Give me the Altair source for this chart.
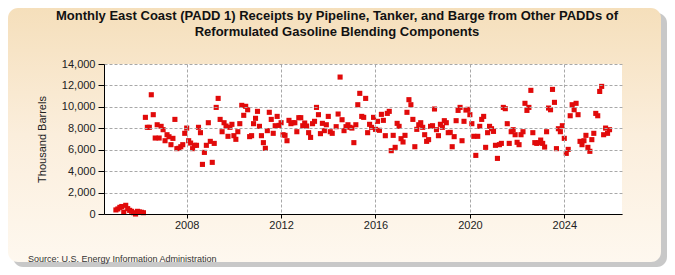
import altair as alt
import pandas as pd

title_line1 = "Monthly East Coast (PADD 1) Receipts by Pipeline, Tanker, and Barge from Other PADDs of"
title_line2 = "Reformulated Gasoline Blending Components"
y_title = "Thousand Barrels"
source_text = "Source: U.S. Energy Information Administration"

x_tick_years = [2008, 2012, 2016, 2020, 2024]
y_ticks = [0, 2000, 4000, 6000, 8000, 10000, 12000, 14000]

# monthly values (Jan..Dec), thousand barrels
v2005 = [380, 470, 620, 700, 180, 810, 500, 340, 250, 120, 0, 250]
v2006 = [190, 160, 120, 9020, 8090, 8090, 11130, 9270, 7090, 8330, 7090, 8180]
v2007 = [7870, 6840, 7400, 7210, 6470, 7060, 8830, 6100, 6130, 6280, 6470, 7530]
v2008 = [8020, 6840, 6620, 6100, 6410, 6410, 8090, 7590, 4630, 5750, 6410, 8520]
v2009 = [6780, 4820, 6590, 9950, 10790, 8830, 7680, 8520, 8210, 7250, 8090, 8370]
v2010 = [7310, 6970, 7680, 8430, 10140, 9210, 10050, 9730, 7220, 7310, 8430, 8930]
v2011 = [9580, 8180, 7310, 6660, 6130, 7780, 9490, 8830, 7530, 8240, 9110, 8270]
v2012 = [8520, 7400, 7340, 6840, 8740, 8430, 8520, 8520, 7680, 8990, 8990, 8240]
v2013 = [8490, 8210, 7590, 7150, 8430, 8650, 9950, 9270, 7500, 8460, 7780, 8330]
v2014 = [9110, 7680, 7530, None, 8150, 9330, 12780, 8800, 7780, 8150, 8330, 8090]
v2015 = [8020, 6660, 8330, 10200, 11260, 9110, 9020, 10790, 7590, 8370, 8090, 9020]
v2016 = [7900, 8650, 7810, 9300, 8740, 7310, 9390, 9580, 5910, 7340, 6220, 8460]
v2017 = [8180, 7030, 6720, 7340, 9490, 10670, 10200, 8830, 6280, 7900, 8330, 8520]
v2018 = [8090, 7400, 6780, 6940, 8180, 8240, 9800, 7870, 7310, 8370, 8090, 8710]
v2019 = [8520, 7590, 7620, 6280, 7220, 8710, 9670, 9950, 6840, 8650, 9700, 9770]
v2020 = [9270, 8430, 7250, 5470, 7250, 8180, 8830, 9110, 6220, 7590, 8180, 7960]
v2021 = [7710, 6410, 5190, 6470, 6590, 9950, 9830, 8430, 6590, 7680, 7870, 7400]
v2022 = [6690, 6470, 7400, 7680, 10330, 9670, 9950, 11540, 7590, 6660, 6590, 6660]
v2023 = [6900, 6590, 6250, 7680, 9890, 9730, 11630, 10420, 6100, 7960, 7680, 8240]
v2024 = [7060, 5660, 6030, 9170, 10200, 9730, 10330, 9270, 6780, 6470, 6840, 7340]
v2025 = [6220, 5850, 6940, 7530, 9390, 9170, 11440, 11910, 7400, 8020, 7530, 7870]

years = list(range(2005, 2026))
series = [v2005, v2006, v2007, v2008, v2009, v2010, v2011, v2012, v2013, v2014,
          v2015, v2016, v2017, v2018, v2019, v2020, v2021, v2022, v2023, v2024, v2025]

rows = []
for yr, vals in zip(years, series):
    for i, v in enumerate(vals):
        if v is not None:
            rows.append({"t": yr + i / 12.0, "v": v})
df = pd.DataFrame(rows)

W, H = 518, 150
PL, PT, PR, PB = 96, 56, 45, 53
x_dom = [2004.496, 2026.445]
xs = alt.Scale(domain=x_dom, nice=False, zero=False)
ys = alt.Scale(domain=[0, 14000], nice=False)

x_axis = alt.Axis(
    values=x_tick_years, format="d", title=None, grid=True, gridDash=[3, 2],
    gridColor="#A8A8A8", zindex=1,
    domainColor="#000", tickColor="#000", tickSize=4, labelPadding=1,
    labelFontSize=11, labelFont="Liberation Sans", labelColor="#222",
)
y_axis = alt.Axis(
    values=y_ticks, format=",d", title=y_title, grid=True, gridDash=[3, 2],
    gridColor="#A8A8A8", zindex=1,
    domainColor="#000", tickColor="#000", tickSize=6, labelPadding=3,
    labelFontSize=11, labelFont="Liberation Sans", labelColor="#222",
    titleFont="Liberation Sans", titleFontSize=11, titleFontWeight="normal",
    titleColor="#222", titleX=-57, titleY=H / 2,
)

one = pd.DataFrame({"k": [0]})

shadow = alt.Chart(one).mark_rect(color="#9A9A9A", cornerRadius=10, opacity=0.55).encode(
    x=alt.value(-PL + 5), x2=alt.value(W + PR), y=alt.value(-PT + 5), y2=alt.value(H + PB)
)
panel = alt.Chart(one).mark_rect(
    cornerRadius=10,
    fill=alt.Gradient(
        gradient="linear",
        stops=[alt.GradientStop(color="#F5DFBB", offset=0),
               alt.GradientStop(color="#FBEEDC", offset=0.5),
               alt.GradientStop(color="#FEF8EF", offset=1)],
        x1=0, x2=0, y1=0, y2=1,
    ),
).encode(x=alt.value(-PL), x2=alt.value(W + PR - 6), y=alt.value(-PT), y2=alt.value(H + PB - 5))

plot_bg = alt.Chart(one).mark_rect(color="white").encode(
    x=alt.value(0), x2=alt.value(W), y=alt.value(0), y2=alt.value(H)
)

points = alt.Chart(df).mark_square(size=26, color="#E10A0A", opacity=1).encode(
    x=alt.X("t:Q", scale=xs, axis=x_axis),
    y=alt.Y("v:Q", scale=ys, axis=y_axis),
)

title_style = dict(align="center", baseline="alphabetic", fontSize=13, fontWeight="bold",
                   font="Liberation Sans", color="#111")
title1 = alt.Chart(pd.DataFrame({"s": [title_line1]})).mark_text(**title_style).encode(
    x=alt.value(233), y=alt.value(-44), text="s:N")
title2 = alt.Chart(pd.DataFrame({"s": [title_line2]})).mark_text(**title_style).encode(
    x=alt.value(233), y=alt.value(-28), text="s:N")

source = alt.Chart(pd.DataFrame({"s": [source_text]})).mark_text(
    align="left", baseline="middle", fontSize=9, font="Liberation Sans", color="#333"
).encode(x=alt.value(-76), y=alt.value(195), text="s:N")

chart = alt.layer(shadow, panel, plot_bg, points, title1, title2, source).properties(
    width=W, height=H,
    padding={"left": PL, "top": PT, "right": PR, "bottom": PB},
    autosize=alt.AutoSizeParams(type="none"),
    background="white",
).configure_view(stroke="transparent")

chart.save("out.html", embed_options={"renderer": "svg", "actions": False})
